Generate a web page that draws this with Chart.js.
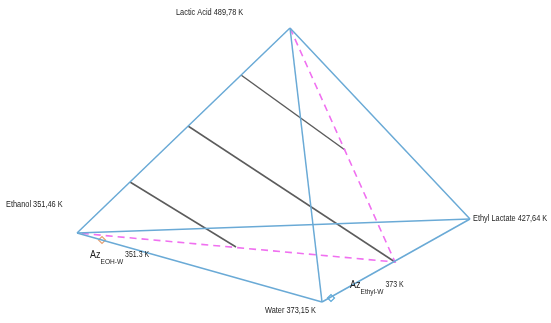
<!DOCTYPE html>
<html>
<head>
<meta charset="utf-8">
<script src="https://cdn.jsdelivr.net/npm/chart.js@4"></script>
<style>
  html, body { margin: 0; padding: 0; background: #fff; }
  #tetra { display: block; }
</style>
</head>
<body>
<canvas id="tetra" width="551" height="323"></canvas>
<script>
// vertices of the tetrahedron (projected), with boiling points
const components = ['Lactic Acid 489,78 K', 'Ethanol 351,46 K', 'Ethyl Lactate 427,64 K', 'Water 373,15 K'];
const vertexX = [290, 77, 470, 322];
const vertexY = [28, 233, 219, 302];
const edges = [[0, 1], [0, 2], [0, 3], [1, 2], [1, 3], [3, 2]];

// distillation boundary (dashed): apex -> saddle -> ethanol
const boundaryX = [290, 395, 77];
const boundaryY = [28, 262, 233];

// tie lines
const tieX1 = [241, 188, 130];
const tieY1 = [75, 126, 182];
const tieX2 = [345, 395, 236];
const tieY2 = [150, 262, 247];

// azeotropes
const azNames = ['EOH-W', 'Ethyl-W'];
const azTemps = ['351.3 K', '373 K'];
const azX = [102, 331];
const azY = [240, 298];
const azColors = ['#e8a070', '#5aa8d8'];

const datasets = [];

edges.forEach(([a, b]) => {
  datasets.push({
    data: [{ x: vertexX[a], y: vertexY[a] }, { x: vertexX[b], y: vertexY[b] }],
    showLine: true, borderColor: '#6aaad6', borderWidth: 1.5, pointRadius: 0
  });
});

datasets.push({
  data: boundaryX.map((x, i) => ({ x, y: boundaryY[i] })),
  showLine: true, borderColor: '#f070f0', borderWidth: 1.6, borderDash: [7, 5], pointRadius: 0
});

tieX1.forEach((x, i) => {
  datasets.push({
    data: [{ x, y: tieY1[i] }, { x: tieX2[i], y: tieY2[i] }],
    showLine: true, borderColor: '#5c5c5c', borderWidth: 1.5, pointRadius: 0
  });
});

azX.forEach((x, i) => {
  datasets.push({
    data: [{ x, y: azY[i] }],
    pointStyle: 'rectRot', pointRadius: 3.5, borderWidth: 1.2,
    borderColor: azColors[i], backgroundColor: '#ffffff'
  });
});

// where the labels sit relative to their vertex / azeotrope
const nameOffsets = [[-114, -15], [-71, -28], [3, 0], [-57, 9]];
const azOffsets = [[-12, 15], [19, -13]];

const FONT = '"Liberation Sans", Arial, sans-serif';

// condensed text: draw squeezed horizontally, return drawn width
function squeezed(ctx, text, x, y, size) {
  const sx = 0.82;
  ctx.save();
  ctx.translate(x, y);
  ctx.scale(sx, 1);
  ctx.font = size + 'px ' + FONT;
  ctx.fillText(text, 0, 0);
  const w = ctx.measureText(text).width * sx;
  ctx.restore();
  return w;
}

const labelPlugin = {
  id: 'labels',
  afterDatasetsDraw(chart) {
    const { ctx, scales } = chart;
    const px = v => scales.x.getPixelForValue(v);
    const py = v => scales.y.getPixelForValue(v);
    ctx.save();
    ctx.fillStyle = '#222';
    ctx.textBaseline = 'middle';
    ctx.textAlign = 'left';
    components.forEach((name, i) => {
      squeezed(ctx, name, px(vertexX[i]) + nameOffsets[i][0], py(vertexY[i]) + nameOffsets[i][1], 9);
    });
    azNames.forEach((name, i) => {
      let x = px(azX[i]) + azOffsets[i][0];
      const y = py(azY[i]) + azOffsets[i][1];
      x += squeezed(ctx, 'Az', x, y, 11);
      x += squeezed(ctx, name, x, y + 7, 8) + 2;
      squeezed(ctx, azTemps[i], x, y, 8.5);
    });
    ctx.restore();
  }
};

new Chart(document.getElementById('tetra'), {
  type: 'scatter',
  data: { datasets },
  options: {
    responsive: false,
    animation: false,
    layout: { padding: 0, autoPadding: false },
    plugins: { legend: { display: false }, tooltip: { enabled: false } },
    scales: {
      x: { type: 'linear', min: 0, max: 551, display: false },
      y: { type: 'linear', min: 0, max: 323, reverse: true, display: false }
    }
  },
  plugins: [labelPlugin]
});
</script>
</body>
</html>
